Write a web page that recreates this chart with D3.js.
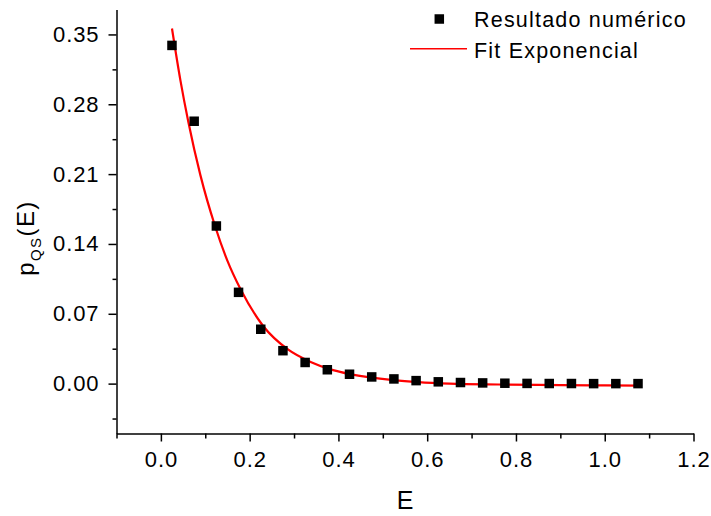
<!DOCTYPE html>
<html>
<head>
<meta charset="utf-8">
<script src="https://cdn.jsdelivr.net/npm/d3@7"></script>
<style>
    body { margin: 0; background: #fff; }
    text { font-family: "Liberation Sans", Arial, sans-serif; fill: #000; }
</style>
</head>
<body>
<div id="chart"></div>
<script>
// energies of the numeric points
var energies = [0.025, 0.075, 0.125, 0.175, 0.225, 0.275, 0.325, 0.375, 0.425, 0.475, 0.525,
    0.575, 0.625, 0.675, 0.725, 0.775, 0.825, 0.875, 0.925, 0.975, 1.025, 1.075];
var pNumeric = [0.339, 0.263, 0.158, 0.0915, 0.0545, 0.033, 0.0212, 0.0139, 0.0094, 0.0067, 0.0047,
    0.003, 0.0018, 0.0011, 0.0007, 0.0004, 0.0002, 0.0001, 0.0001, 0.0, 0.0, 0.0];

// exponential fit curve
var fitE = [0.025, 0.044, 0.062, 0.089, 0.122, 0.15, 0.179, 0.23, 0.287, 0.336, 0.388, 0.426,
    0.524, 0.58, 0.65, 0.76, 0.9, 1.0, 1.079];
var fitP = [0.356, 0.304, 0.262, 0.209, 0.158, 0.123, 0.095, 0.058, 0.034, 0.022, 0.0135, 0.0095,
    0.0035, 0.0015, 0.0, -0.0009, -0.0015, -0.0018, -0.002];

var xTicks = [0.0, 0.2, 0.4, 0.6, 0.8, 1.0, 1.2];
var xMinorTicks = [-0.1, 0.1, 0.3, 0.5, 0.7, 0.9, 1.1];
var yTicks = [0.0, 0.07, 0.14, 0.21, 0.28, 0.35];
var yMinorTicks = [-0.035, 0.035, 0.105, 0.175, 0.245, 0.315];

var legendLabels = ["Resultado numérico", "Fit Exponencial"];

var width = 711, height = 516;
var plot = { left: 116.5, right: 693.5, top: 9.5, bottom: 433.5 };

var svg = d3.select("#chart").append("svg")
    .attr("width", width)
    .attr("height", height);

var x = d3.scaleLinear().domain([-0.1, 1.2]).range([plot.left, plot.right]);
var y = d3.scaleLinear().domain([-0.05, 0.375]).range([plot.bottom, plot.top]);

var xAxis = d3.axisBottom(x).tickValues(xTicks).tickFormat(d3.format(".1f"))
    .tickSize(8).tickSizeOuter(0).tickPadding(10);
var xMinor = d3.axisBottom(x).tickValues(xMinorTicks).tickFormat("").tickSize(5).tickSizeOuter(0);
var yAxis = d3.axisLeft(y).tickValues(yTicks).tickFormat(d3.format(".2f"))
    .tickSize(8).tickSizeOuter(0).tickPadding(9);
var yMinor = d3.axisLeft(y).tickValues(yMinorTicks).tickFormat("").tickSize(4).tickSizeOuter(0);

svg.append("g").attr("class", "x axis")
    .attr("transform", "translate(0," + plot.bottom + ")")
    .call(xAxis);
svg.append("g").attr("class", "x minor")
    .attr("transform", "translate(0," + plot.bottom + ")")
    .call(xMinor);
svg.append("g").attr("class", "y axis")
    .attr("transform", "translate(" + plot.left + ",0)")
    .call(yAxis);
svg.append("g").attr("class", "y minor")
    .attr("transform", "translate(" + plot.left + ",0)")
    .call(yMinor);

svg.selectAll(".minor .domain").remove();
svg.selectAll(".axis .domain, .axis line, .minor line")
    .style("stroke", "#000")
    .style("stroke-width", 1.5);
svg.selectAll(".axis text")
    .style("font-size", "22px")
    .style("letter-spacing", "0.9px")
    .style("font-family", "'Liberation Sans', Arial, sans-serif");

// axis titles
svg.append("text")
    .attr("x", (plot.left + plot.right) / 2)
    .attr("y", 509)
    .attr("text-anchor", "middle")
    .style("font-size", "25px")
    .text("E");

var ylab = svg.append("text")
    .attr("transform", "translate(34,238) rotate(-90)")
    .attr("text-anchor", "middle")
    .style("font-size", "24px")
    .style("letter-spacing", "1.4px");
ylab.append("tspan").text("p");
ylab.append("tspan").attr("dy", 7).style("font-size", "15px").text("QS");
ylab.append("tspan").attr("dy", -7).text("(E)");

// fit line
var fitData = fitE.map(function(e, i) { return [e, fitP[i]]; });
var line = d3.line()
    .x(function(d) { return x(d[0]); })
    .y(function(d) { return y(d[1]); })
    .curve(d3.curveMonotoneX);

svg.append("path")
    .datum(fitData)
    .attr("d", line)
    .style("fill", "none")
    .style("stroke", "#ff0000")
    .style("stroke-width", 2.2);

// numeric points
var sq = 9.5;
svg.selectAll(".pt")
    .data(energies)
    .enter().append("rect")
    .attr("class", "pt")
    .attr("x", function(d) { return x(d) - sq / 2; })
    .attr("y", function(d, i) { return y(pNumeric[i]) - sq / 2; })
    .attr("width", sq)
    .attr("height", sq)
    .style("fill", "#000");

// legend
var legend = svg.append("g").attr("class", "legend");
legend.append("rect")
    .attr("x", 439.3 - sq / 2)
    .attr("y", 19 - sq / 2)
    .attr("width", sq)
    .attr("height", sq)
    .style("fill", "#000");
legend.append("line")
    .attr("x1", 410).attr("x2", 467)
    .attr("y1", 48.7).attr("y2", 48.7)
    .style("stroke", "#ff0000")
    .style("stroke-width", 1.5);
legend.selectAll(".lbl")
    .data(legendLabels)
    .enter().append("text")
    .attr("class", "lbl")
    .attr("x", 474)
    .attr("y", function(d, i) { return 27 + i * 30.6; })
    .style("font-size", "21.5px")
    .style("letter-spacing", "1.2px")
    .text(function(d) { return d; });
</script>
</body>
</html>
